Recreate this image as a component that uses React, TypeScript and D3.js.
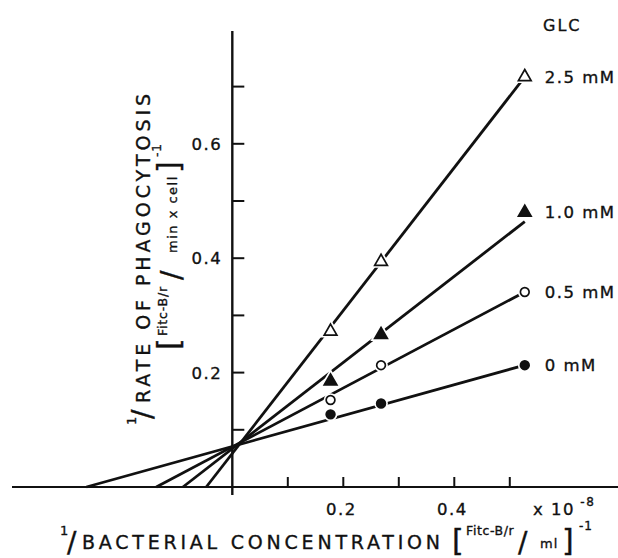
import React from 'react';
import * as d3 from 'd3';

// ---- data ----
const xPoints = [0.177, 0.268, 0.527]; // 1/bacterial concentration (x 10^-8)
const glc25 = [0.272, 0.394, 0.717];
const glc10 = [0.185, 0.266, 0.48];
const glc05 = [0.152, 0.213, 0.341];
const glc0 = [0.127, 0.146, 0.213];
const seriesLabels = ['2.5 mM', '1.0 mM', '0.5 mM', '0 mM'];
const seriesMarkers = ['triangle-open', 'triangle-filled', 'circle-open', 'circle-filled'];
// fitted lines: x-intercept and value at the last point
const lineXIntercepts = [-0.047, -0.089, -0.137, -0.263];
const lineEndValues = [0.717, 0.464, 0.341, 0.213];
const lineEndX = 0.527;

const yTicks = [0.1, 0.2, 0.3, 0.4, 0.5, 0.6, 0.7];
const yTickLabels = [0.2, 0.4, 0.6];
const xTicks = [0.1, 0.2, 0.3, 0.4, 0.5];
const xTickLabels = [0.2, 0.4];
const xAxisExtent = [-0.397, 0.695];
const yAxisExtent = [-0.014, 0.797];

const W = 618;
const H = 558;
const FONT = 'DejaVu Sans, Verdana, sans-serif';
const INK = '#111';

const x = d3.scaleLinear().domain(xAxisExtent).range([12, 618]);
const y = d3.scaleLinear().domain([0, 0.7]).range([487, 86.6]);

const seriesValues = [glc25, glc10, glc05, glc0];

const textStyle = { fontFamily: FONT, fill: INK, stroke: INK, strokeWidth: 0.35 } as const;

function Marker({ kind, cx, cy }: { kind: string; cx: number; cy: number }) {
  const isTri = kind.startsWith('triangle');
  const filled = kind.endsWith('filled');
  const path = isTri
    ? d3.symbol().type(d3.symbolTriangle).size(70)()
    : d3.symbol().type(d3.symbolCircle).size(60)();
  return (
    <g transform={`translate(${cx},${cy})`}>
      <path d={path || ''} fill="#fff" stroke="#fff" strokeWidth={5} />
      <path d={path || ''} fill={filled ? INK : '#fff'} stroke={INK} strokeWidth={1.7} />
    </g>
  );
}

type Piece = { t: string; at: number; dy: number; size: number; ls?: number };

function Pieces({ x0, y0, pieces }: { x0: number; y0: number; pieces: Piece[] }) {
  return (
    <g>
      {pieces.map((p, i) => (
        <text key={i} x={x0 + p.at} y={y0 + p.dy} fontSize={p.size} letterSpacing={p.ls || 0} {...textStyle}>
          {p.t}
        </text>
      ))}
    </g>
  );
}

const xUnitPieces: Piece[] = [
  { t: '[', at: 0, dy: 0, size: 30 },
  { t: 'Fitc-B/r', at: 14, dy: -16, size: 12.5, ls: 0.6 },
  { t: '/', at: 66, dy: 1, size: 28 },
  { t: 'ml', at: 88, dy: -3, size: 13, ls: 1 },
  { t: ']', at: 110, dy: 0, size: 30 },
  { t: '-1', at: 127, dy: -21, size: 12, ls: 1 },
];

const yUnitPieces: Piece[] = [
  { t: '[', at: 0, dy: 0, size: 30 },
  { t: 'Fitc-B/r', at: 14, dy: -12, size: 12.5, ls: 0.8 },
  { t: '/', at: 70, dy: 2, size: 28 },
  { t: 'min x cell', at: 97, dy: -2, size: 13, ls: 1.5 },
  { t: ']', at: 177, dy: 0, size: 30 },
  { t: '-1', at: 193, dy: -18, size: 12, ls: 1 },
];

export default function App() {
  const lineGen = d3
    .line<[number, number]>()
    .x((d) => x(d[0]))
    .y((d) => y(d[1]));

  return (
    <svg
      width={W}
      height={H}
      viewBox={`0 0 ${W} ${H}`}
      style={{ position: 'absolute', left: 0, top: 0, background: '#fff' }}
    >
      <rect width={W} height={H} fill="#fff" />

      {/* axes */}
      <line x1={x(xAxisExtent[0])} x2={x(xAxisExtent[1])} y1={y(0)} y2={y(0)} stroke={INK} strokeWidth={2.2} />
      <line x1={x(0)} x2={x(0)} y1={y(yAxisExtent[0])} y2={y(yAxisExtent[1])} stroke={INK} strokeWidth={2.4} />
      {yTicks.map((t) => (
        <line key={'yt' + t} x1={x(0)} x2={x(0) + 12} y1={y(t)} y2={y(t)} stroke={INK} strokeWidth={2} />
      ))}
      {xTicks.map((t) => (
        <line key={'xt' + t} x1={x(t)} x2={x(t)} y1={y(0)} y2={y(0) - 10} stroke={INK} strokeWidth={2} />
      ))}
      {yTickLabels.map((t) => (
        <text key={'yl' + t} x={x(0) - 10} y={y(t) + 6} textAnchor="end" fontSize={16.5} letterSpacing={1.5} {...textStyle}>
          {t.toFixed(1)}
        </text>
      ))}
      {xTickLabels.map((t) => (
        <text key={'xl' + t} x={x(t) - 2} y={515} textAnchor="middle" fontSize={16.5} letterSpacing={1.5} {...textStyle}>
          {t.toFixed(1)}
        </text>
      ))}
      <text x={533} y={515} fontSize={16.5} letterSpacing={1.5} {...textStyle}>
        x 10
        <tspan fontSize={12} dy={-9}>
          {' -8'}
        </tspan>
      </text>

      {/* fitted lines */}
      {lineXIntercepts.map((xi, i) => (
        <path
          key={'ln' + i}
          d={lineGen([
            [xi, 0],
            [lineEndX, lineEndValues[i]],
          ]) || ''}
          fill="none"
          stroke={INK}
          strokeWidth={2.8}
        />
      ))}

      {/* markers */}
      {seriesValues.map((vals, si) =>
        vals.map((v, pi) => (
          <Marker key={`m${si}-${pi}`} kind={seriesMarkers[si]} cx={x(xPoints[pi])} cy={y(v)} />
        ))
      )}

      {/* legend labels */}
      <text x={543} y={31} fontSize={16} letterSpacing={2} {...textStyle}>
        GLC
      </text>
      {seriesLabels.map((lab, si) => (
        <text key={'lab' + si} x={x(lineEndX) + 20} y={y(seriesValues[si][2]) + 6} fontSize={16.5} letterSpacing={1.5} {...textStyle}>
          {lab}
        </text>
      ))}

      {/* x axis title */}
      <text x={60} y={535} fontSize={13} {...textStyle}>
        1
      </text>
      <text x={67} y={552} fontSize={28} {...textStyle}>
        /
      </text>
      <text x={82} y={549} fontSize={19} textLength={358} lengthAdjust="spacing" {...textStyle}>
        BACTERIAL CONCENTRATION
      </text>
      <Pieces x0={452} y0={551} pieces={xUnitPieces} />

      {/* y axis title */}
      <g transform="translate(150,403) rotate(-90)">
        <text x={-22} y={-14} fontSize={13} {...textStyle}>
          1
        </text>
        <text x={-16} y={2} fontSize={28} {...textStyle}>
          /
        </text>
        <text x={0} y={0} fontSize={19} textLength={309} lengthAdjust="spacing" {...textStyle}>
          RATE OF PHAGOCYTOSIS
        </text>
        <Pieces x0={53} y0={29} pieces={yUnitPieces} />
      </g>
    </svg>
  );
}
